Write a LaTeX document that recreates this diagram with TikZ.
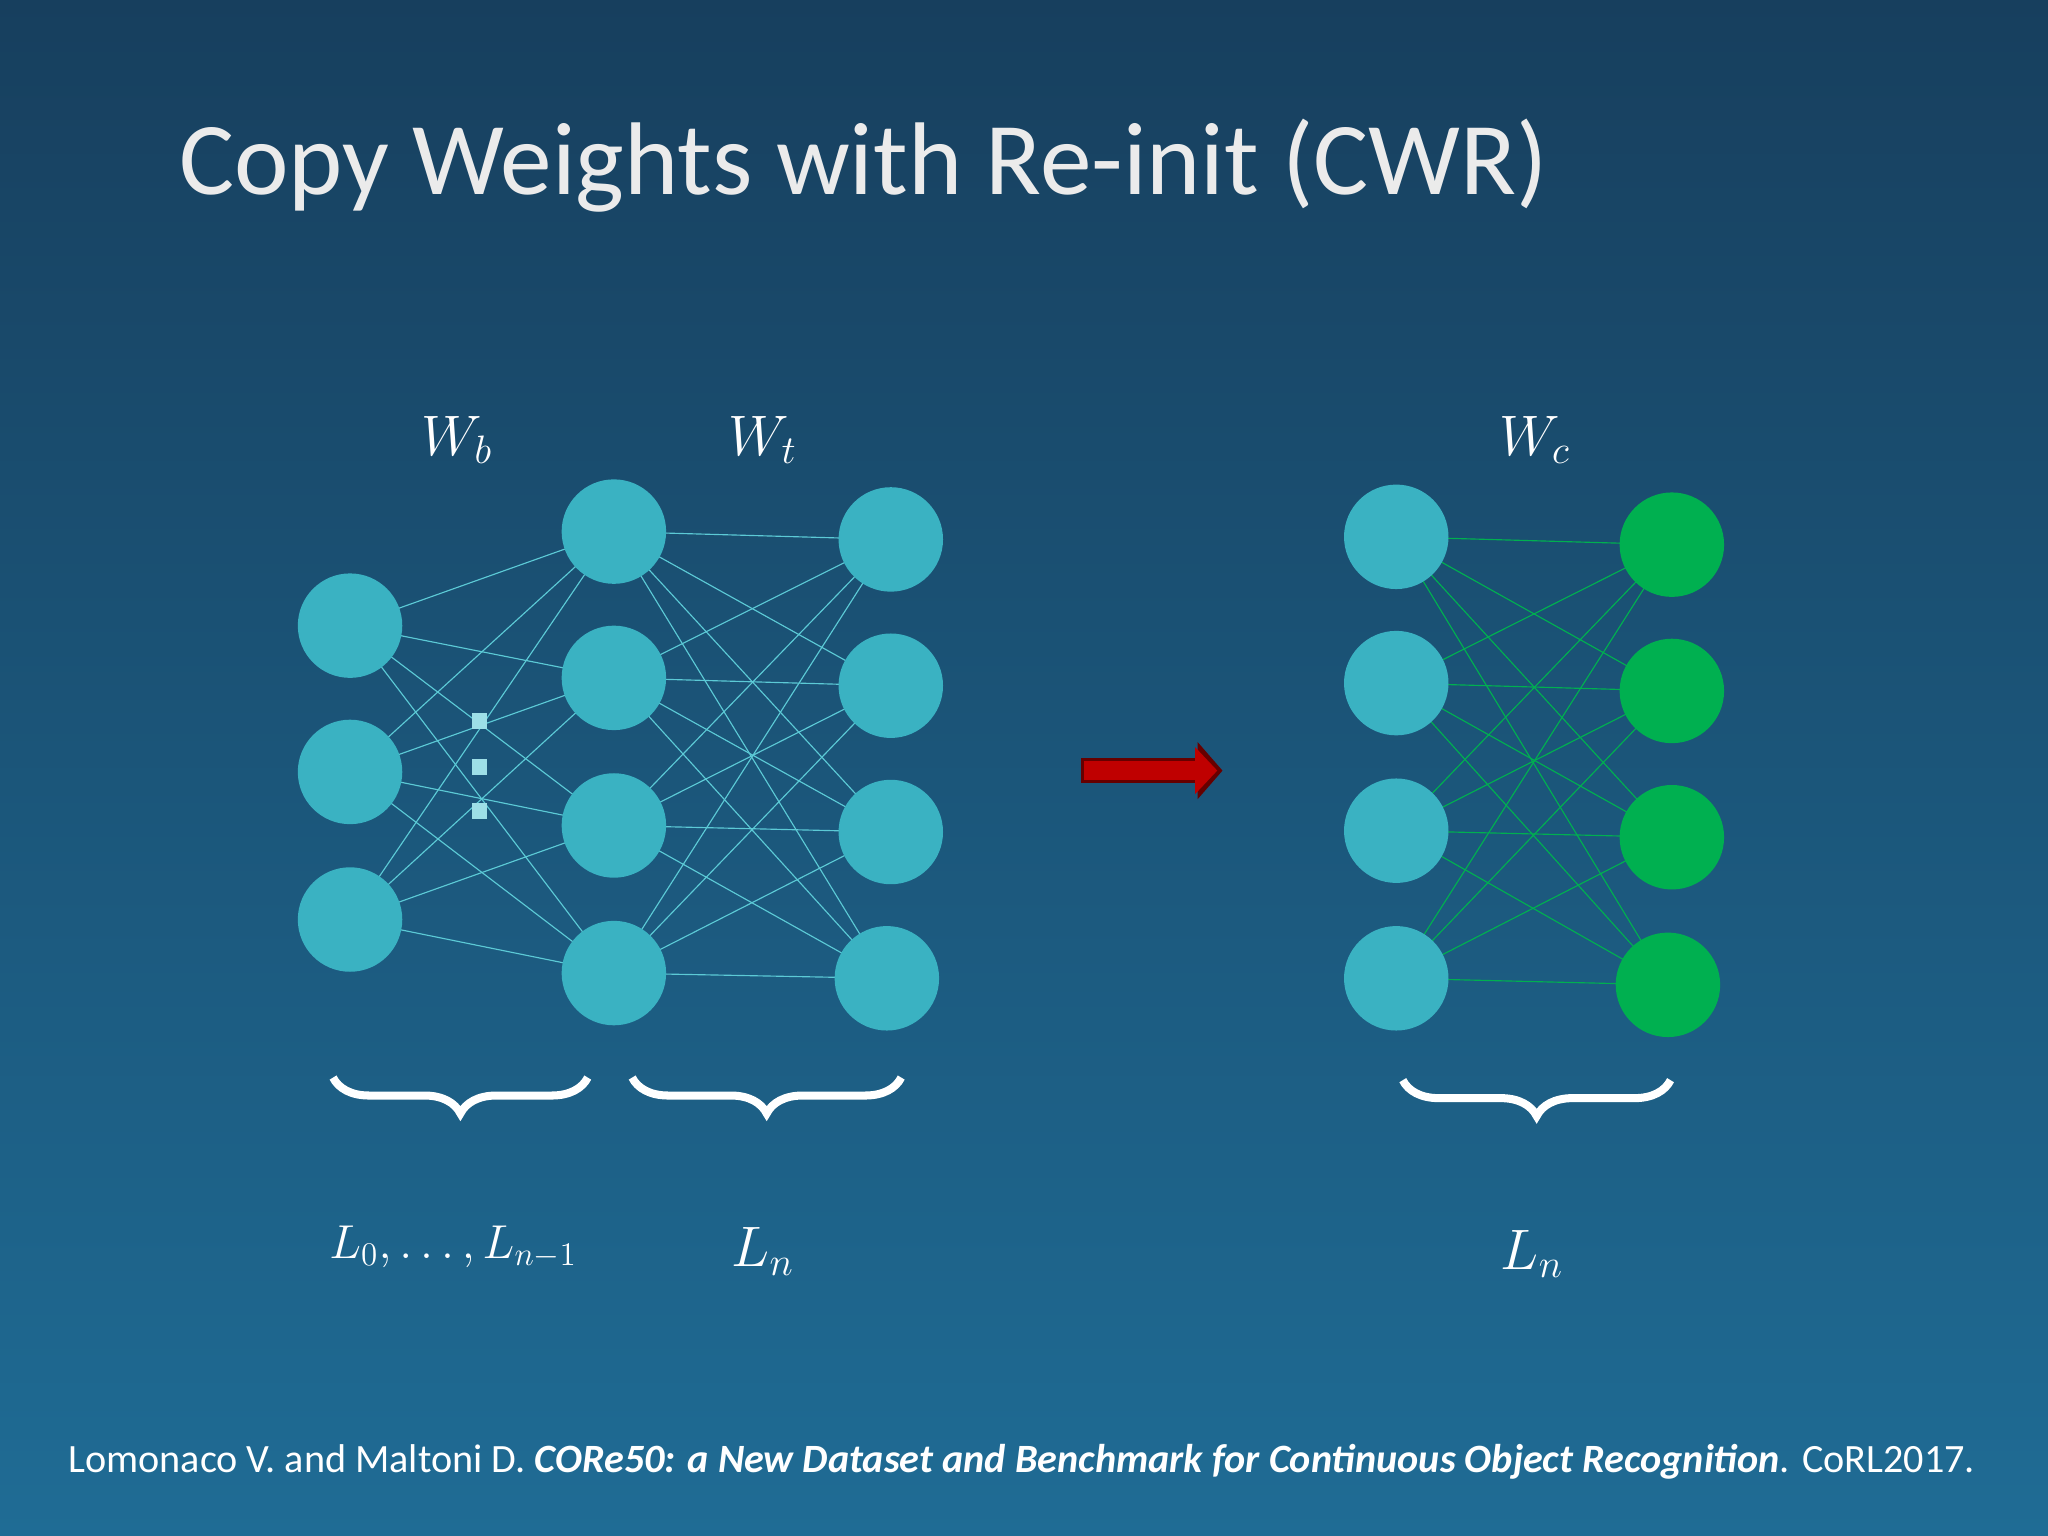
\documentclass[tikz,border=0pt]{standalone}
\usepackage{fontspec}
\setmainfont{Carlito}
\usetikzlibrary{decorations.pathreplacing,arrows.meta}
\definecolor{bgtop}{HTML}{173F5E}
\definecolor{bgbot}{HTML}{1F6C95}
\definecolor{neu}{HTML}{3AB2C2}
\definecolor{grn}{HTML}{00B050}
\definecolor{lnk}{HTML}{5CCAD6}
\begin{document}
\begin{tikzpicture}[x=0.02cm,y=-0.02cm,
  neuron/.style={circle,minimum size=1.6cm,inner sep=0pt,fill=neu,draw=none},
  gneuron/.style={circle,minimum size=1.6cm,inner sep=0pt,fill=grn,draw=none},
  link/.style={draw=lnk,line width=0.5pt},
  glink/.style={draw=grn,line width=0.5pt},
  brc/.style={draw=white,line width=3.5pt,decorate,decoration={brace,mirror,amplitude=0.55cm}},
  lab/.style={text=white,font=\fontsize{24}{28}\selectfont}]
\shade[top color=bgtop,bottom color=bgbot] (0,0) rectangle (1568,1176);
\useasboundingbox (0,0) rectangle (1568,1176);
\node[anchor=west,text=white!92!black,inner sep=0] (title) at (137,127) {\fontsize{45}{54}\selectfont Copy Weights with Re-init (CWR)};
% nodes
\foreach \i/\y in {1/479,2/591,3/704} \coordinate (a\i) at (268,\y);
\foreach \i/\y in {1/407,2/519,3/632,4/745} \coordinate (b\i) at (470,\y);
\foreach \i/\x/\y in {1/682/413,2/682/525,3/682/637,4/679/749} \coordinate (c\i) at (\x,\y);
\foreach \i/\y in {1/411,2/523,3/636,4/749} \coordinate (d\i) at (1069,\y);
\foreach \i/\x/\y in {1/1280/417,2/1280/529,3/1280/641,4/1277/754} \coordinate (e\i) at (\x,\y);
\foreach \i in {1,2,3} \foreach \j in {1,...,4} \draw[link] (a\i) -- (b\j);
\foreach \i in {1,...,4} \foreach \j in {1,...,4} \draw[link] (b\i) -- (c\j);
\foreach \i in {1,...,4} \foreach \j in {1,...,4} \draw[glink] (d\i) -- (e\j);
\foreach \i in {1,2,3} \node[neuron] (na\i) at (a\i) {};
\foreach \i in {1,...,4} {\node[neuron] (nb\i) at (b\i) {}; \node[neuron] (nc\i) at (c\i) {};
  \node[neuron] (nd\i) at (d\i) {}; \node[gneuron] (ne\i) at (e\i) {};}
\foreach \y in {552,587,621} \fill[lnk!60!white] (361,\y-6) rectangle (373,\y+6);
% arrow
\draw[-{Triangle[length=0.38cm,width=0.85cm]},line width=0.38cm,draw=black!60!red] (828,590) -- (936,590);
\draw[-{Triangle[length=0.34cm,width=0.7cm]},line width=0.28cm,draw=red!75!black] (830,590) -- (932,590);
% labels
\node[lab] (wb) at (350,337) {$W_b$};
\node[lab] (wt) at (584,337) {$W_t$};
\node[lab] (wc) at (1175,337) {$W_c$};
\draw[brc] (255,825) -- (450,825);
\draw[brc] (484,825) -- (690,825);
\draw[brc] (1074,827) -- (1279,827);
\node[lab,font=\fontsize{22}{26}\selectfont] (l0) at (347,955) {$L_0,\ldots,L_{n-1}$};
\node[lab] (ln) at (584,958) {$L_n$};
\node[lab] (ln2) at (1173,960) {$L_n$};
\node[anchor=west,text=white,inner sep=0] (ref) at (52,1119) {\resizebox{29.2cm}{!}{Lomonaco V. and Maltoni D. \textbf{\textit{CORe50: a New Dataset and Benchmark for Continuous Object Recognition}}. CoRL2017.}};
\end{tikzpicture}
\end{document}
